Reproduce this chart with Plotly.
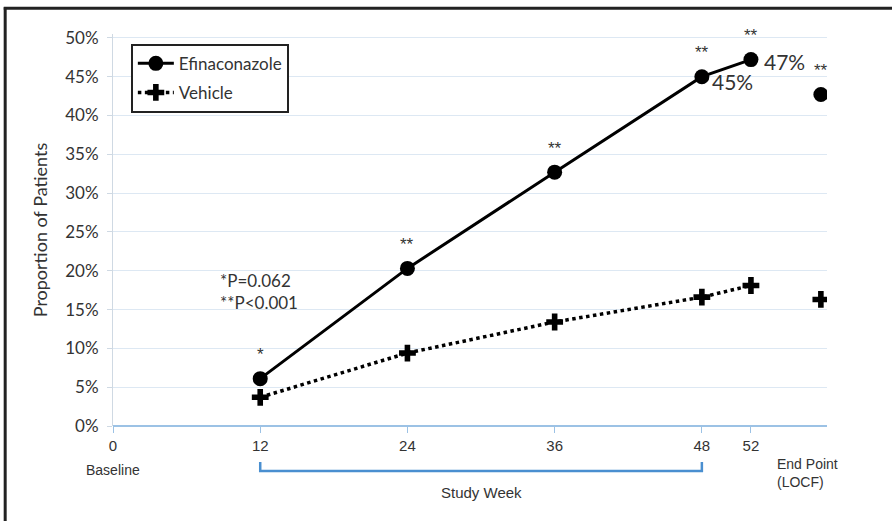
import plotly.graph_objects as go

weeks = [12, 24, 36, 48, 52]
endpoint_x = 57.7
efina = [6.1, 20.3, 32.7, 45.0, 47.2]
efina_end = 42.7
vehicle = [3.7, 9.4, 13.4, 16.6, 18.1]
vehicle_end = 16.3
sig_marks = ["*", "**", "**", "**", "**"]
sig_end = "**"
tick_vals = [0, 12, 24, 36, 48, 52]
tick_text = ["0", "12", "24", "36", "48", "52"]
y_ticks = [0, 5, 10, 15, 20, 25, 30, 35, 40, 45, 50]

calibri = "Lato, Open Sans, sans-serif"
narrow = "Liberation Sans Narrow, Arial Narrow, Liberation Sans, sans-serif"

fig = go.Figure()
fig.add_trace(go.Scatter(x=weeks, y=efina, mode="lines+markers", name="Efinaconazole",
                         line=dict(color="black", width=3),
                         marker=dict(symbol="circle", size=15, color="black"),
                         legendgroup="a"))
fig.add_trace(go.Scatter(x=weeks, y=vehicle, mode="lines+markers", name="Vehicle",
                         line=dict(color="black", width=3.5, dash="dot"),
                         marker=dict(symbol="cross", size=14, color="black"),
                         legendgroup="b"))
fig.add_trace(go.Scatter(x=[endpoint_x], y=[efina_end], mode="markers", showlegend=False,
                         marker=dict(symbol="circle", size=15, color="black")))
fig.add_trace(go.Scatter(x=[endpoint_x], y=[vehicle_end], mode="markers", showlegend=False,
                         marker=dict(symbol="cross", size=14, color="black")))

ann = []
for x, y, s in zip(weeks + [endpoint_x], efina + [efina_end], sig_marks + [sig_end]):
    ann.append(dict(x=x, y=y, text=s, showarrow=False, yshift=24,
                    font=dict(size=17, color="#333", family="Liberation Sans, sans-serif")))
ann.append(dict(x=weeks[3], y=efina[3], text=f"{efina[3]:.0f}%", showarrow=False,
                xanchor="left", xshift=8, yshift=-5, font=dict(size=21, color="#333", family=calibri)))
ann.append(dict(x=weeks[4], y=efina[4], text=f"{efina[4]:.0f}%", showarrow=False,
                xanchor="left", xshift=11, yshift=-2, font=dict(size=21, color="#333", family=calibri)))
ann.append(dict(xref="paper", yref="paper", x=0.147, y=0.342, text="*P=0.062<br>**P<0.001",
                showarrow=False, xanchor="left", yanchor="middle", align="left",
                font=dict(size=17, color="#333", family=calibri)))
ann.append(dict(xref="x", yref="paper", x=0, y=-0.112, text="Baseline", showarrow=False,
                xanchor="center", yanchor="middle",
                font=dict(size=14, color="#333", family=narrow)))
ann.append(dict(xref="x", yref="paper", x=54.0, y=-0.12, text="End Point<br>(LOCF)",
                showarrow=False, xanchor="left", yanchor="middle", align="left",
                font=dict(size=14, color="#333", family=narrow)))
ann.append(dict(xref="x", yref="paper", x=30, y=-0.17, text="Study Week", showarrow=False,
                xanchor="center", yanchor="middle",
                font=dict(size=15, color="#333", family=narrow)))

shapes = [
    dict(type="line", xref="paper", yref="paper", x0=-0.153, x1=1.1, y0=1.066, y1=1.066,
         line=dict(color="#222", width=3)),
    dict(type="line", xref="paper", yref="paper", x0=-0.151, x1=-0.151, y0=1.068, y1=-0.3,
         line=dict(color="#222", width=3)),
    dict(type="path", xref="x", yref="paper",
         path="M 12,-0.092 L 12,-0.115 L 48,-0.115 L 48,-0.092",
         line=dict(color="#4a8fd0", width=2.5)),
]

fig.update_layout(
    width=892, height=521,
    margin=dict(l=113, r=65, t=34, b=95, autoexpand=False),
    paper_bgcolor="white", plot_bgcolor="white",
    font=dict(family=calibri, color="#333"),
    annotations=ann, shapes=shapes,
    legend=dict(x=0.025, y=0.975, xanchor="left", yanchor="top",
                bordercolor="#222", borderwidth=2, bgcolor="white",
                font=dict(size=17, color="#333", family=calibri), tracegroupgap=4,
                itemwidth=36),
    showlegend=True,
)
fig.update_xaxes(range=[0, 58.2], tickvals=tick_vals, ticktext=tick_text,
                 showgrid=False, zeroline=False, showline=False, automargin=False,
                 ticks="outside", ticklen=6, tickcolor="#9cc2e5",
                 tickfont=dict(size=15, color="#333", family=narrow))
fig.update_yaxes(range=[0, 50.5], tickvals=y_ticks, ticktext=[f"{v}%" for v in y_ticks],
                 showgrid=True, gridcolor="#dde8f3", gridwidth=1, automargin=False,
                 zeroline=True, zerolinecolor="#9cc2e5", zerolinewidth=2,
                 showline=True, linecolor="#cfd9e3", linewidth=1,
                 ticks="outside", ticklen=5, tickcolor="#cfd9e3", ticklabelstandoff=5,
                 tickfont=dict(size=17, color="#333", family=calibri),
                 title=dict(text="Proportion of Patients", font=dict(size=18, color="#333", family=calibri),
                            standoff=12))

fig.write_html("out.html", config={"displayModeBar": False},
               post_script="document.body.style.margin='0';")
